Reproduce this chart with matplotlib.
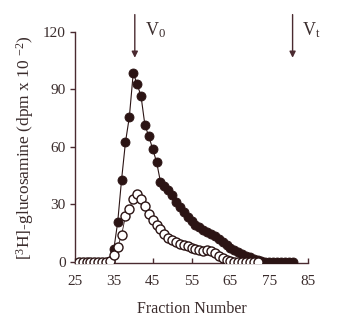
import matplotlib
matplotlib.use("Agg")
import matplotlib.pyplot as plt

# Data
filled_fraction = list(range(34, 82))
filled_value = [0.5, 6.6, 20.8, 43, 62.5, 75.7, 98.6, 92.7, 86.5, 71.4, 65.6, 58.9, 52.2, 41.8,
                39.5, 37.5, 35, 31.5, 28.5, 26, 23.5, 21.5, 19.5, 18, 16.5, 15.5, 14.5, 13.5,
                12, 10.5, 9, 7.5, 6, 5, 4, 3.2, 2.5, 1.8, 1.2, 0.6,
                0, 0, 0, 0, 0, 0, 0, 0]
open_fraction = list(range(26, 73))
open_value = [0, 0, 0, 0, 0, 0, 0, 0, 0.5, 3.5, 8, 14, 24, 27.5, 33, 35.5, 33, 29, 25, 22,
              19.5, 17, 14.5, 12.5, 11.5, 10.5, 9.5, 9, 8.5, 7.5, 7, 6, 5.5, 6.5, 5.5, 4.5,
              3, 2, 1.2, 0.5, 0, 0, 0, 0, 0, 0, 0]
x_ticks = [25, 35, 45, 55, 65, 75, 85]
y_ticks = [0, 30, 60, 90, 120]
v0_fraction = 40.4
vt_fraction = 81

plt.rcParams['font.family'] = ['Liberation Serif', 'DejaVu Serif']
plt.rcParams['mathtext.fontset'] = 'custom'
plt.rcParams['mathtext.rm'] = 'Liberation Serif'
plt.rcParams['mathtext.it'] = 'Liberation Serif'

axc = '#4a2a30'
mc = '#2b1414'
tc = '#3a2c2c'

fig = plt.figure(figsize=(3.47, 3.25), dpi=100)
ax = fig.add_axes([0.216, 0.191, 0.672, 0.711])

ax.plot(filled_fraction, filled_value, '-', color=mc, lw=0.8, marker='o', ms=6.5,
        mfc=mc, mec=mc, mew=0.6, zorder=3)
ax.plot(open_fraction, open_value, '-', color=mc, lw=0.6, marker='o', ms=6.5,
        mfc='white', mec=mc, mew=1.0, zorder=4)

ax.set_xlim(25, 85)
ax.set_ylim(-0.5, 120)
ax.set_xticks(x_ticks)
ax.set_yticks(y_ticks)
ax.spines['top'].set_visible(False)
ax.spines['right'].set_visible(False)
for s in ('left', 'bottom'):
    ax.spines[s].set_color(axc)
    ax.spines[s].set_linewidth(1.0)
ax.tick_params(axis='x', direction='in', length=3.5, width=1.0, color=axc, pad=9,
               labelsize=11, labelcolor=tc)
ax.tick_params(axis='y', direction='out', length=3.5, width=1.0, color=axc, pad=3,
               labelsize=11, labelcolor=tc)

ax.set_xlabel('Fraction Number', fontsize=11.5, color=tc, labelpad=9)
ax.set_ylabel(r'[$^{3}$H]-glucosamine (dpm x 10 $^{-2}$)', fontsize=12.5, color=tc, labelpad=5)

for xf, lab, dx in [(v0_fraction, r'V$_{0}$', 2.6), (vt_fraction, r'V$_{t}$', 2.4)]:
    ax.annotate('', xy=(xf, 106.5), xytext=(xf, 129), xycoords='data',
                arrowprops=dict(arrowstyle='-|>', color=axc, lw=1.0, mutation_scale=9,
                                shrinkA=0, shrinkB=0), annotation_clip=False)
    ax.text(xf + dx, 121, lab, fontsize=13, color=tc, ha='left', va='center', clip_on=False)

fig.savefig('out.png', dpi=100)
